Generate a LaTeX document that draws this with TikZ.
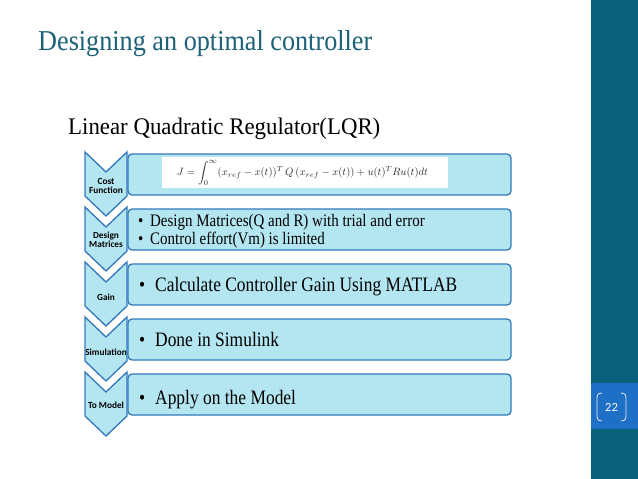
\documentclass[tikz,border=0pt]{standalone}
\usepackage{fontspec}
\setmainfont{Liberation Serif}
\newfontfamily\headfont[FakeStretch=0.91]{Liberation Serif}
\newfontfamily\subfont[FakeStretch=0.96]{Liberation Serif}
\newfontfamily\boxfont[FakeStretch=0.85]{Liberation Serif}
\newfontfamily\labfont{Carlito}
\usepackage{graphicx}
\definecolor{teal1}{HTML}{1C6176}
\definecolor{barcol}{HTML}{08607A}
\definecolor{numbox}{HTML}{1E6FC6}
\definecolor{cyanfill}{HTML}{B4E6F1}
\definecolor{bluedge}{HTML}{3378BC}
\definecolor{eqgray}{HTML}{2A2A2A}
\tikzset{
  chev/.style={fill=cyanfill, draw=bluedge, line width=1.3pt, line join=miter},
  stagebox/.style={fill=cyanfill, draw=bluedge, line width=1.3pt, rounded corners=4pt},
  chevlabel/.style={font=\labfont\bfseries\fontsize{9.3}{10.5}\selectfont, align=center, inner sep=0pt},
  bigtext/.style={font=\boxfont\fontsize{20.5}{24}\selectfont, anchor=base west, inner sep=0pt},
  smalltext/.style={font=\boxfont\fontsize{17.6}{20}\selectfont, anchor=base west, inner sep=0pt}
}
\begin{document}
\begin{tikzpicture}[x=1pt,y=-1pt]
\useasboundingbox (0,0) rectangle (638,479);
\fill[white] (0,0) rectangle (638,479);
% right bar
\fill[barcol] (591,0) rectangle (638,479);
\fill[numbox] (591,383) rectangle (638,429);
\draw[white!85!gray, line width=0.8pt] (602,393) .. controls (597,393) and (597,396) .. (597,400) -- (597,414) .. controls (597,418) and (597,421) .. (602,421);
\draw[white!85!gray, line width=0.8pt] (621,393) .. controls (626,393) and (626,396) .. (626,400) -- (626,414) .. controls (626,418) and (626,421) .. (621,421);
\node[text=white, font=\labfont\fontsize{12.5}{14}\selectfont, inner sep=0pt] (pnum) at (611.5,407) {22};
% titles
\node[anchor=base west, inner sep=0pt, text=teal1, font=\headfont\fontsize{28.8}{32}\selectfont] (title) at (38,50) {Designing an optimal controller};
\node[anchor=base west, inner sep=0pt, font=\subfont\fontsize{23.8}{27}\selectfont] (subtitle) at (68,134) {Linear Quadratic Regulator(LQR)};
% stages
\foreach \yt/\nm in {152/s1,207/s2,262/s3,317/s4,372/s5}{
  \draw[stagebox] (128,\yt+2) rectangle (511,\yt+43);
  \draw[chev] (85,\yt) -- (106,\yt+20) -- (127,\yt) -- (127,\yt+44) -- (106,\yt+64) -- (85,\yt+44) -- cycle;
}
% chevron labels
\node[chevlabel] (l1) at (106,186) {Cost\\[-1.5pt]Function};
\node[chevlabel] (l2) at (106,240) {Design\\[-1.5pt]Matrices};
\node[chevlabel] (l3) at (106,297) {Gain};
\node[chevlabel] (l4) at (106,352) {Simulation};
\node[chevlabel] (l5) at (106,405) {To Model};
% equation image
\fill[white] (162,157) rectangle (448,188);
\node[inner sep=0pt, text=eqgray] (eq) at (302.5,173) {\resizebox{251pt}{!}{$\displaystyle J=\int_0^\infty (x_{ref}-x(t))^T\,Q\,(x_{ref}-x(t))+u(t)^T R u(t)dt$}};
% box texts
\node[smalltext] (t2a) at (138,226) {\makebox[12pt][l]{\textbullet}Design Matrices(Q and R) with trial and error};
\node[smalltext] (t2b) at (138,244) {\makebox[12pt][l]{\textbullet}Control effort(Vm) is limited};
\node[bigtext] (t3) at (139,291) {\makebox[16pt][l]{\textbullet}Calculate Controller Gain Using MATLAB};
\node[bigtext] (t4) at (139,346) {\makebox[16pt][l]{\textbullet}Done in Simulink};
\node[bigtext] (t5) at (139,404) {\makebox[16pt][l]{\textbullet}Apply on the Model};
\end{tikzpicture}
\end{document}
